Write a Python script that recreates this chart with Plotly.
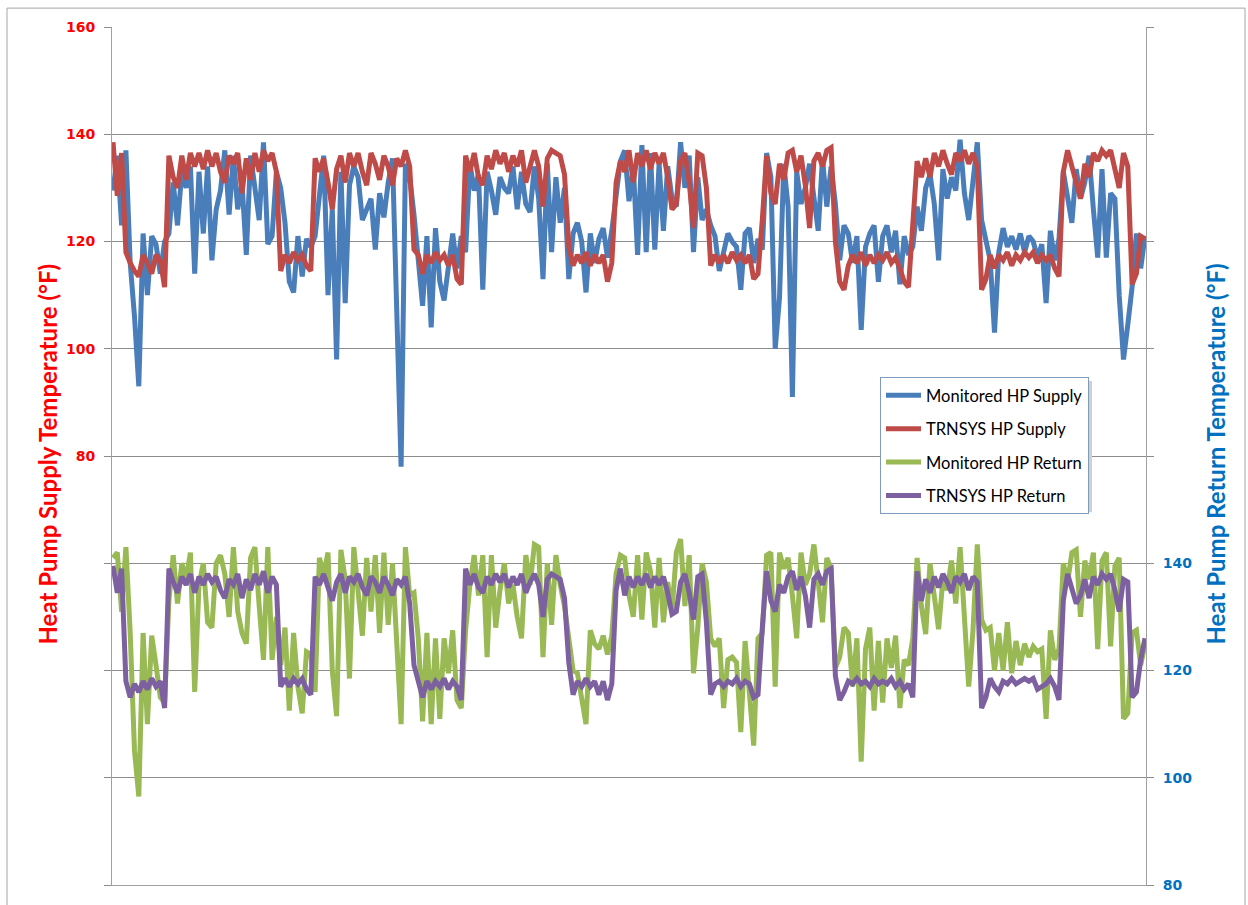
import plotly.graph_objects as go

# time index (3-hour steps)
hours = list(range(0, 723, 3))

monitored_supply = [
    129.5, 136, 123, 137, 116, 106, 93, 121.5, 110, 121,
    119.5, 114, 120, 121.5, 131, 123, 133, 130, 134, 114,
    133, 121.5, 134, 116.5, 126, 129.5, 137, 125, 136, 126,
    131, 117.5, 136, 130, 124, 138.5, 119.5, 121, 133, 130,
    123.5, 112.5, 110.5, 121, 113.5, 120.5, 119, 121, 128, 136,
    110, 126, 98, 133, 108.5, 130.5, 134, 132, 124, 126,
    128, 118.5, 129, 124.5, 131, 135.5, 107, 78, 134.5, 132,
    125, 116, 108, 121, 104, 122.5, 112.5, 109, 116, 121.5,
    115, 121, 118, 134.5, 129.5, 132.5, 111, 133, 129.5, 125,
    132, 130, 129, 134, 126, 133, 127, 125.5, 134, 128,
    113, 134.5, 118, 132, 123.5, 130, 113, 121.5, 123.5, 120,
    110.5, 121.5, 116, 120.5, 122.5, 117, 122, 129, 135, 137,
    127.5, 134, 117.5, 138, 118, 136.5, 118.5, 134.5, 122, 134,
    128, 126.5, 138.5, 130, 136, 118, 132, 124, 126, 123,
    121, 114.5, 118.5, 121.5, 120, 119, 111, 121.5, 122.5, 116,
    120.5, 118.5, 136.5, 132, 100, 109.5, 134.5, 126.5, 91, 133,
    127, 130, 134.5, 128, 122, 135.5, 126.5, 134, 127, 116.5,
    123, 121.5, 116, 121, 103.5, 119, 121.5, 123, 112.5, 121,
    123, 118, 122, 112, 121, 117.5, 119, 126.5, 122, 130,
    132.5, 127, 116.5, 133.5, 128, 132, 129.5, 139, 129, 124,
    131, 138.5, 124, 120.5, 116.5, 103, 118, 122.5, 119, 121,
    118.5, 121.5, 118, 121, 120, 117, 119.5, 108.5, 122, 116.5,
    120.5, 133, 128.5, 123.5, 133.5, 128, 131, 136, 126, 117,
    133.5, 117, 129, 128, 110, 98, 104.5, 111.5, 121.5, 115,
    121,
]

trnsys_supply = [
    138.5, 128.5, 136.5, 118, 116, 114.5, 113.5, 117.5, 116, 114,
    117.5, 116.5, 111.5, 136, 132, 130, 136, 131.5, 136.5, 134,
    136.5, 133.5, 137, 134, 136.5, 133, 131, 136, 134.5, 136.5,
    129, 135.5, 131.5, 136.5, 133, 137, 135, 136.5, 133, 114.5,
    117.5, 116, 118, 116.5, 117.5, 115.5, 114.5, 135.5, 133, 135.5,
    131, 126, 133.5, 136, 131, 136.5, 134, 136.5, 133, 130.5,
    136.5, 134.5, 131.5, 136, 134, 130.5, 135.5, 134, 137, 134,
    118.5, 117.5, 114, 117.5, 116, 118, 116.5, 117.5, 115.5, 117.5,
    113, 112, 136, 133, 136.5, 132, 130.5, 136, 133.5, 137,
    134.5, 136.5, 133, 136, 134, 137, 131, 134.5, 137, 134,
    126.5, 135.5, 137, 136.5, 136, 132.5, 119, 115.5, 117.5, 116,
    118, 115.5, 117.5, 116, 117.5, 112.5, 116, 131, 135, 133,
    137, 131, 136.5, 134, 137, 133.5, 136.5, 134.5, 136.5, 132,
    126, 127, 135, 136.5, 131, 122.5, 136.5, 136, 130, 115.5,
    117.5, 116, 117.5, 116, 118, 116.5, 117.5, 116, 117.5, 113,
    114, 124, 136, 129, 127, 134.5, 131.5, 136.5, 137, 133,
    136, 130.5, 122.5, 135, 136.5, 134, 137, 137.5, 120, 112.5,
    111, 115.5, 117.5, 116, 118, 115.5, 117.5, 116, 117.5, 116.5,
    118, 116, 117, 115, 112.5, 111.5, 122, 135, 132, 135.5,
    132, 136.5, 134, 137, 134.5, 132.5, 136.5, 135, 137, 134.5,
    136.5, 134, 111, 113, 117.5, 115, 117.5, 116.5, 118, 115.5,
    117.5, 116.5, 118, 117, 118, 116, 117.5, 116.5, 117.5, 115,
    113.5, 133, 137, 134, 131, 128, 134.5, 132, 136.5, 135,
    137, 136, 137, 133, 130, 136.5, 134, 112, 114, 121,
    120.5,
]

monitored_return = [
    141, 142, 131, 143, 127, 105, 96.5, 127, 110, 126.5,
    121, 115, 114, 133, 141.5, 132.5, 140, 137, 142, 116,
    136, 140, 129, 128, 140, 141.5, 138, 130, 143, 131,
    127, 125, 141, 143, 132, 122, 143, 122, 130, 121,
    128, 112.5, 127, 117, 112, 123.5, 123, 116, 141, 138,
    142, 120, 111.5, 142.5, 137, 118.5, 143, 134, 126.5, 141,
    131, 141.5, 127, 142, 128.5, 140, 122.5, 110, 143, 134,
    134.5, 126, 110.5, 127, 110, 126, 111, 126, 119.5, 127.5,
    114.5, 113, 127.5, 136, 141.5, 134, 141.5, 122.5, 141.5, 128,
    135, 140, 132.5, 136, 130, 126, 141.5, 136, 143.5, 143,
    122.5, 140, 128.5, 141.5, 136, 132, 126, 120, 119.5, 115,
    110, 127.5, 125, 124, 126.5, 123, 126.5, 138, 141.5, 141,
    134, 130, 141.5, 129.5, 142, 138.5, 128, 141, 129, 136.5,
    131, 142, 144.5, 132, 141.5, 119.5, 128, 140, 136.5, 126,
    124.5, 126, 113, 122, 122.5, 121.5, 108.5, 125.5, 116, 106,
    126, 127, 141.5, 142, 117, 142, 139, 141, 134, 126,
    142, 136, 138, 143.5, 136.5, 129, 141, 139, 120.5, 122.5,
    128, 127, 117, 126, 103, 124, 128, 112.5, 125.5, 114,
    126, 120.5, 126.5, 113, 122, 121, 126, 141, 132, 126.8,
    140, 134, 127.7, 137, 135, 140.5, 132.5, 143, 129.5, 117,
    127.5, 143.5, 129.5, 127.5, 128, 120, 127, 120, 129, 119.5,
    125.5, 121, 125, 122.5, 124.5, 123.5, 124, 111, 127.5, 122,
    124, 140, 136.5, 142, 142.5, 130, 140.5, 137, 142, 124,
    140.5, 142, 124.5, 139.5, 141, 111, 112, 127, 127.5, 121,
    125,
]

trnsys_return = [
    139.5, 134.5, 139, 118, 115, 117.5, 116, 118, 116.5, 118.5,
    117, 118, 113, 139, 136.5, 134.5, 137.5, 136, 138, 134.5,
    137.5, 136, 138, 136.5, 137.5, 135, 133.5, 137, 136, 138,
    133.5, 137, 135, 138, 136, 138.5, 134.5, 137.5, 136, 117,
    118.5, 117, 118.5, 117.5, 118.5, 116.5, 115.5, 137.5, 136, 138,
    135.5, 133, 136.5, 138, 134.5, 137.5, 136.5, 138, 135.5, 134,
    137.5, 136.5, 134.5, 137.5, 136, 134, 137, 136, 137.5, 132.5,
    121, 117.5, 115, 118, 116.5, 118, 117, 118.5, 116.5, 118,
    117, 114.5, 139, 136, 138, 135.5, 134.5, 137.5, 136, 138,
    136.5, 138, 135.5, 137.5, 136, 138, 134.5, 136.5, 138, 136,
    130, 137, 138, 137.5, 137, 133.5, 121.5, 115.5, 118, 117,
    118.5, 117, 118, 115.5, 118, 114.5, 117.5, 135, 139, 134,
    137.5, 135.5, 137.5, 136, 138, 135.5, 137.5, 136, 137.5, 134.5,
    130.5, 131, 136.5, 138, 134.5, 129.5, 137.5, 138, 129, 115.5,
    117.5, 118, 117, 118, 117.5, 118.5, 117, 118, 117.5, 115,
    115.5, 128, 138.5, 133, 131, 136, 134.5, 137.5, 138.5, 135,
    137.5, 134, 128, 137, 138, 136, 138.5, 139, 119, 114.5,
    116, 118, 117.5, 118.5, 117.5, 118, 117, 118.5, 117.5, 118,
    117.5, 118.5, 117, 118, 116.5, 117.5, 115, 138.5, 133, 137,
    134.5, 137.5, 135.5, 138, 136.5, 134.5, 137.5, 136.5, 138, 135,
    137.5, 136.5, 113, 115, 118.5, 117, 116, 118, 117.5, 118.5,
    117.5, 118, 118.5, 118, 118.5, 116.5, 117, 117.5, 118.5, 117,
    114.5, 133, 138, 135.5, 132.5, 134, 137, 133.5, 137.5, 136,
    138, 137, 138, 135, 131, 137, 136.5, 115, 116, 122,
    126,
]

series_names = ["Monitored HP Supply", "TRNSYS HP Supply",
                "Monitored HP Return", "TRNSYS HP Return"]
series_colors = ["#4A7EBB", "#BE4B48", "#98B954", "#7D60A0"]

supply_ticks = [0, 20, 40, 60, 80, 100, 120, 140, 160]
supply_tick_labels = ["", "", "", "", "80", "100", "120", "140", "160"]
return_ticks = [80, 100, 120, 140, 160, 180, 200, 220, 240]
return_tick_labels = ["80", "100", "120", "140", "", "", "", "", ""]

fig = go.Figure()
data_sets = [(monitored_supply, "y"), (trnsys_supply, "y"),
             (monitored_return, "y2"), (trnsys_return, "y2")]
for k, (vals, ax) in enumerate(data_sets):
    fig.add_trace(go.Scatter(
        x=hours[:len(vals)], y=vals, mode="lines", name=series_names[k],
        yaxis=ax, legendgroup=str(k),
        line=dict(color=series_colors[k], width=5),
    ))

grid = "#8C8C8C"
axis_line = "#A0A0A0"

fig.update_layout(
    width=1248, height=905,
    margin=dict(l=112, r=102, t=27, b=15),
    paper_bgcolor="white", plot_bgcolor="white",
    xaxis=dict(range=[-0.7, 720.7], showticklabels=False, ticks="",
               showgrid=False, zeroline=False, showline=True,
               linecolor=axis_line, linewidth=1),
    yaxis=dict(range=[0, 160], tickvals=supply_ticks, ticktext=supply_tick_labels,
               ticks="outside", ticklen=7, tickcolor=grid, ticklabelstandoff=6,
               tickfont=dict(family="DejaVu Sans", size=14, color="#FF0000", weight="bold"),
               showgrid=True, gridcolor=grid, gridwidth=1, zeroline=False,
               showline=True, linecolor=axis_line, linewidth=1),
    yaxis2=dict(range=[80, 240], tickvals=return_ticks, ticktext=return_tick_labels,
                overlaying="y", side="right", anchor="x",
                ticks="outside", ticklen=7, tickcolor=grid, ticklabelstandoff=6,
                tickfont=dict(family="DejaVu Sans", size=14, color="#0070C0", weight="bold"),
                showgrid=False, zeroline=False,
                showline=True, linecolor=axis_line, linewidth=1),
    legend=dict(x=(880 - 112) / 1034, y=(890 - 379) / 863, xanchor="left", yanchor="top",
                bgcolor="white", bordercolor="#7F9CC0", borderwidth=1,
                font=dict(family="Lato", size=16.5, color="black"),
                itemwidth=35, traceorder="grouped", tracegroupgap=9),
    showlegend=True,
)

# titles as annotations
fig.add_annotation(
    text="<b>Heat Pump Supply Temperature (°F)</b>", xref="paper", yref="paper",
    x=(48 - 112) / 1034, y=(890 - 457) / 863, textangle=-90, showarrow=False,
    xanchor="center", yanchor="middle",
    font=dict(family="Lato", size=24, color="#FF0000"))
fig.add_annotation(
    text="<b>Heat Pump Return Temperature (°F)</b>", xref="paper", yref="paper",
    x=(1216 - 112) / 1034, y=(890 - 457) / 863, textangle=-90, showarrow=False,
    xanchor="center", yanchor="middle",
    font=dict(family="Lato", size=24, color="#0070C0"))

# outer chart border
fig.add_shape(type="rect", xref="paper", yref="paper",
              x0=(7 - 112) / 1034, x1=(1245 - 112) / 1034,
              y0=(890 - 920) / 863, y1=(890 - 8) / 863,
              line=dict(color="#A6A6A6", width=1), fillcolor="rgba(0,0,0,0)", layer="below")

# legend shadow
fig.add_shape(type="rect", xref="paper", yref="paper",
              x0=(884 - 112) / 1034, x1=(1092 - 112) / 1034,
              y0=(890 - 515) / 863, y1=(890 - 383) / 863,
              line=dict(width=0), fillcolor="#D0D0D0", layer="above")

fig.write_html("out.html")
